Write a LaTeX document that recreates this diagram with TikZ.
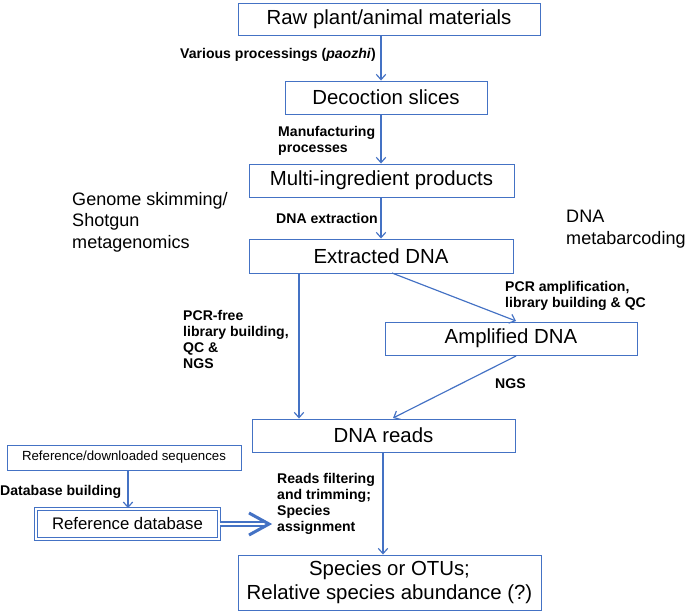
\documentclass[tikz,border=0pt]{standalone}
\usepackage{fontspec}
\setmainfont{Liberation Sans}
\usetikzlibrary{arrows.meta}
\definecolor{flowblue}{RGB}{68,114,196}
\begin{document}
\begin{tikzpicture}[x=0.03cm,y=-0.03cm]
        \useasboundingbox (0,0) rectangle (685,615);

        \begin{scope}[every node/.style={rectangle,draw=flowblue,line width=0.8pt,inner sep=0pt,
            font=\fontsize{17.4}{20.5}\selectfont,align=center}]
          \node[minimum width=9.06cm,minimum height=0.96cm] (raw)    at (389,19)    {Raw plant/animal materials};
          \node[minimum width=6.06cm,minimum height=0.99cm] (slices) at (386,97.5)  {Decoction slices};
          \node[minimum width=7.95cm,minimum height=0.99cm] (multi)  at (381.5,180.5) {Multi-ingredient products};
          \node[minimum width=7.92cm,minimum height=1.02cm] (extr)   at (381,256)   {Extracted DNA};
          \node[minimum width=7.56cm,minimum height=0.99cm] (ampl)   at (511,338.5) {Amplified DNA};
          \node[minimum width=7.89cm,minimum height=0.99cm] (reads)  at (383.5,435.5) {DNA reads};
          \node[minimum width=9.09cm,minimum height=1.65cm] (species) at (389.5,582.5) {Species or OTUs;\\Relative species abundance (?)};
          \node[minimum width=7.02cm,minimum height=0.75cm,font=\fontsize{11.3}{13}\selectfont] (refseq) at (124,457.5) {Reference/downloaded sequences};
          \node[minimum width=5.5cm,minimum height=0.92cm,line width=0.9pt,double,double distance=1.5pt,
            font=\fontsize{14.3}{16}\selectfont] (refdb) at (127.5,524) {Reference database};
        \end{scope}

        % helper points for the arrows
        \coordinate (mid)   at (381,0);
        \coordinate (left)  at (299,0);
        \coordinate (down)  at (383,0);
        \coordinate (dbcol) at (128,0);
        \coordinate (diagA) at (392,273);
        \coordinate (diagB) at (516,321);
        \coordinate (ngsA)  at (516,356);
        \coordinate (ngsB)  at (393,418);
        \coordinate (dbend) at (266,524);
        \coordinate (dbtip) at (269,524);

        \begin{scope}[every edge/.style={draw=flowblue,line width=1pt,-{Straight Barb[length=4.5pt,width=8pt]}}]
          \path (raw.south -| mid)    edge (slices.north -| mid);
          \path (slices.south -| mid) edge (multi.north -| mid);
          \path (multi.south -| mid)  edge (extr.north -| mid);
          \path (extr.south -| left)  edge (reads.north -| left);
          \path (diagA)               edge (diagB);
          \path (ngsA)                edge (ngsB);
          \path (reads.south -| down) edge (species.north -| down);
          \path (refseq.south -| dbcol) edge (refdb.north -| dbcol);
        \end{scope}

        % double shaft with a heavy open head
        \draw[flowblue,line width=1.1pt,double,double distance=2.2pt] (refdb.east) -- (dbend);
        \draw[flowblue,line width=2.6pt,miter limit=20] ([shift={(-20,-11)}]dbtip) -- (dbtip) -- ([shift={(-20,11)}]dbtip);

        \begin{scope}[every node/.style={inner sep=0pt,align=left,anchor=north west,
            font=\bfseries\fontsize{12}{13.7}\selectfont}]
          \node[anchor=north east] (lproc) at (376,48) {Various processings (\textit{paozhi})};
          \node (lmanu)  at (278,126) {Manufacturing\\processes};
          \node (lextr)  at (276,213) {DNA extraction};
          \node (lpcr)   at (505,281) {PCR amplification,\\library building \& QC};
          \node (lfree)  at (183,310) {PCR-free\\library building,\\QC \&\\NGS};
          \node (lngs)   at (495,378) {NGS};
          \node (ldb)    at (0,485)   {Database building};
          \node (lreads) at (277,473) {Reads filtering\\and trimming;\\Species\\assignment};
        \end{scope}

        \begin{scope}[every node/.style={inner sep=0pt,align=left,anchor=north west,
            font=\fontsize{15.4}{18.4}\selectfont}]
          \node (lshot) at (72,192)  {Genome skimming/\\Shotgun\\metagenomics};
          \node (lmeta) at (566,210) {DNA\\metabarcoding};
        \end{scope}

      \end{tikzpicture}
\end{document}
